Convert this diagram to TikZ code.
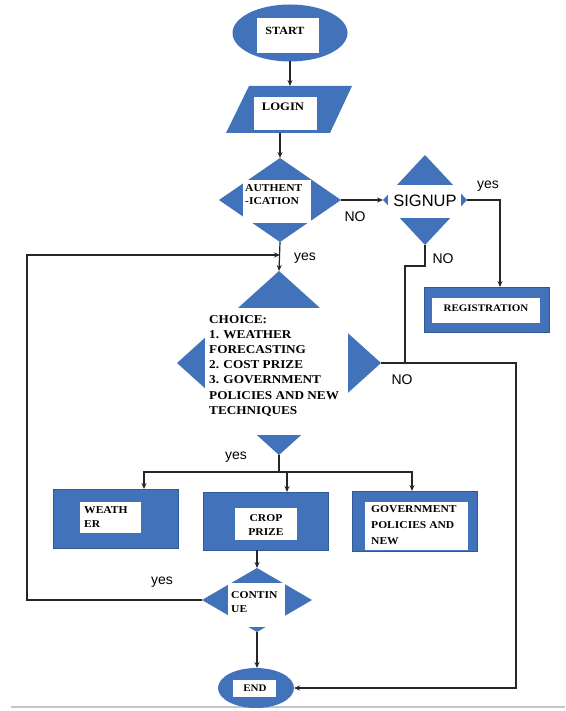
\documentclass[tikz,border=0pt]{standalone}
\usepackage{fontspec}
\setmainfont[FakeStretch=1.1]{Liberation Serif}
\newfontfamily\labelfont{Liberation Sans}
\usetikzlibrary{shapes.geometric,arrows.meta}
\definecolor{fcblue}{RGB}{66,114,186}
\definecolor{fcedge}{RGB}{50,88,150}
\begin{document}
\begin{tikzpicture}[x=1pt,y=-1pt,
  blueshape/.style={fill=fcblue, draw=none, inner sep=0pt, outer sep=0pt},
  bluebox/.style={blueshape, rectangle, draw=fcedge, line width=0.6pt},
  txt/.style={font=\fontsize{11}{14}\selectfont\bfseries, inner sep=0pt, align=left},
  lab/.style={font=\labelfont\fontsize{14}{16}\selectfont, inner sep=0pt},
  line/.style={draw=black!85, line width=1.2pt},
  arr/.style={line, -{Stealth[length=6pt,width=5pt]}}]
\useasboundingbox (0,0) rectangle (565,711);
\fill[white] (0,0) rectangle (565,711);
\draw[gray!45, line width=1.2pt] (11,707) -- (565,707);

% START
\node[blueshape, ellipse, minimum width=115pt, minimum height=57pt] (start) at (290,33) {};
\fill[white] (257,18) rectangle (319,53);
\node[txt] (starttxt) at (285,31) {START};

% LOGIN
\fill[fcblue] (226,133) -- (249,86) -- (352,86) -- (330,133) -- cycle;
\coordinate (loginN) at (290,86);
\coordinate (loginS) at (280,133);
\fill[white] (254,97) rectangle (317,130);
\node[txt, font=\fontsize{11.5}{14}\selectfont\bfseries] (logintxt) at (283,107) {LOGIN};

% AUTHENTICATION
\node[blueshape, diamond, minimum width=122pt, minimum height=84pt] (auth) at (280,200) {};
\fill[white] (243,180) rectangle (311,223);
\node[txt, anchor=north west, font=\fontsize{10.5}{13}\selectfont\bfseries] (authtxt) at (245,184) {AUTHENT\\-ICATION};

% SIGNUP
\node[blueshape, diamond, minimum width=84pt, minimum height=90pt] (signup) at (425,200) {};
\fill[white] (388,185) rectangle (461,218);
\node[font=\labelfont\fontsize{16.5}{18}\selectfont, inner sep=0pt] (signuptxt) at (425,201) {SIGNUP};

% REGISTRATION
\node[bluebox, minimum width=125pt, minimum height=45pt] (reg) at (486.5,309.5) {};
\fill[white] (432,298) rectangle (540,323);
\node[txt, font=\fontsize{10}{12}\selectfont\bfseries] (regtxt) at (486,308) {REGISTRATION};

% CHOICE
\node[blueshape, diamond, minimum width=204pt, minimum height=184pt] (choice) at (279,363) {};
\fill[white] (205,308) rectangle (348,435);
\node[txt, anchor=north west, font=\fontsize{12}{15.2}\selectfont\bfseries] (choicetxt) at (209,315) {CHOICE:\\1. WEATHER\\FORECASTING\\2. COST PRIZE\\3. GOVERNMENT\\POLICIES AND NEW\\TECHNIQUES};

% three boxes
\node[bluebox, minimum width=125pt, minimum height=59pt] (weather) at (115.5,518.5) {};
\fill[white] (80,502) rectangle (141,533);
\node[txt, anchor=north west, font=\fontsize{10.5}{14}\selectfont\bfseries] (weathertxt) at (84,506) {WEATH\\ER};

\node[bluebox, minimum width=125pt, minimum height=58pt] (crop) at (265.5,521) {};
\fill[white] (235,508) rectangle (297,540);
\node[txt, align=center, font=\fontsize{10.5}{14.5}\selectfont\bfseries] (croptxt) at (266,525) {CROP\\PRIZE};

\node[bluebox, minimum width=125pt, minimum height=60pt] (gov) at (414.5,521) {};
\fill[white] (365,502) rectangle (468,550);
\node[txt, anchor=north west, font=\fontsize{10.5}{16}\selectfont\bfseries] (govtxt) at (371,505) {GOVERNMENT\\POLICIES AND\\NEW};

% CONTINUE
\node[blueshape, diamond, minimum width=110pt, minimum height=64pt] (cont) at (257,600) {};
\fill[white] (228,583) rectangle (285,627);
\node[txt, anchor=north west, font=\fontsize{10.5}{14.5}\selectfont\bfseries] (conttxt) at (231,591) {CONTIN\\UE};

% END
\node[blueshape, ellipse, minimum width=76pt, minimum height=40pt] (endn) at (256,688) {};
\fill[white] (233,680) rectangle (276,697);
\node[txt, font=\fontsize{10}{12}\selectfont\bfseries] (endtxt) at (255,688.5) {END};

% connectors
\draw[arr] (start.south) -- (loginN);
\draw[arr] (loginS) -- (auth.north);
\draw[arr] (auth.east) -- (signup.west);
\draw[arr] (signup.east) -| ([xshift=13.5pt]reg.north);
\path (choice.east) ++(24,0) coordinate (njoin);
\draw[line] (signup.south) -- ++(0,21) -| (njoin);
\draw[arr] (choice.east) -- ++(135,0) |- (endn.east);
\draw[arr] (auth.south) -- (choice.north);
\coordinate (lj) at (280,255);
\draw[arr] (cont.west) -- ++(-175,0) |- (lj);
\draw[line] (choice.south) -- ++(0,17) coordinate (split);
\draw[arr] (split) -| ([xshift=28.5pt]weather.north);
\draw[arr] (split) -| ([xshift=-2.5pt]gov.north);
\draw[arr] ([xshift=21.5pt]crop.north |- split) -- ([xshift=21.5pt]crop.north);
\draw[arr] (cont.north |- crop.south) -- (cont.north);
\draw[arr] (cont.south) -- (cont.south |- endn.north);

% labels
\node[lab] (no1) at (355,217) {NO};
\node[lab] (yes1) at (488,186) {yes};
\node[lab] (no2) at (443,259) {NO};
\node[lab] (yes2) at (305,258) {yes};
\node[lab] (no3) at (402,380) {NO};
\node[lab] (yes3) at (236,457) {yes};
\node[lab] (yes4) at (162,582) {yes};
\end{tikzpicture}
\end{document}
